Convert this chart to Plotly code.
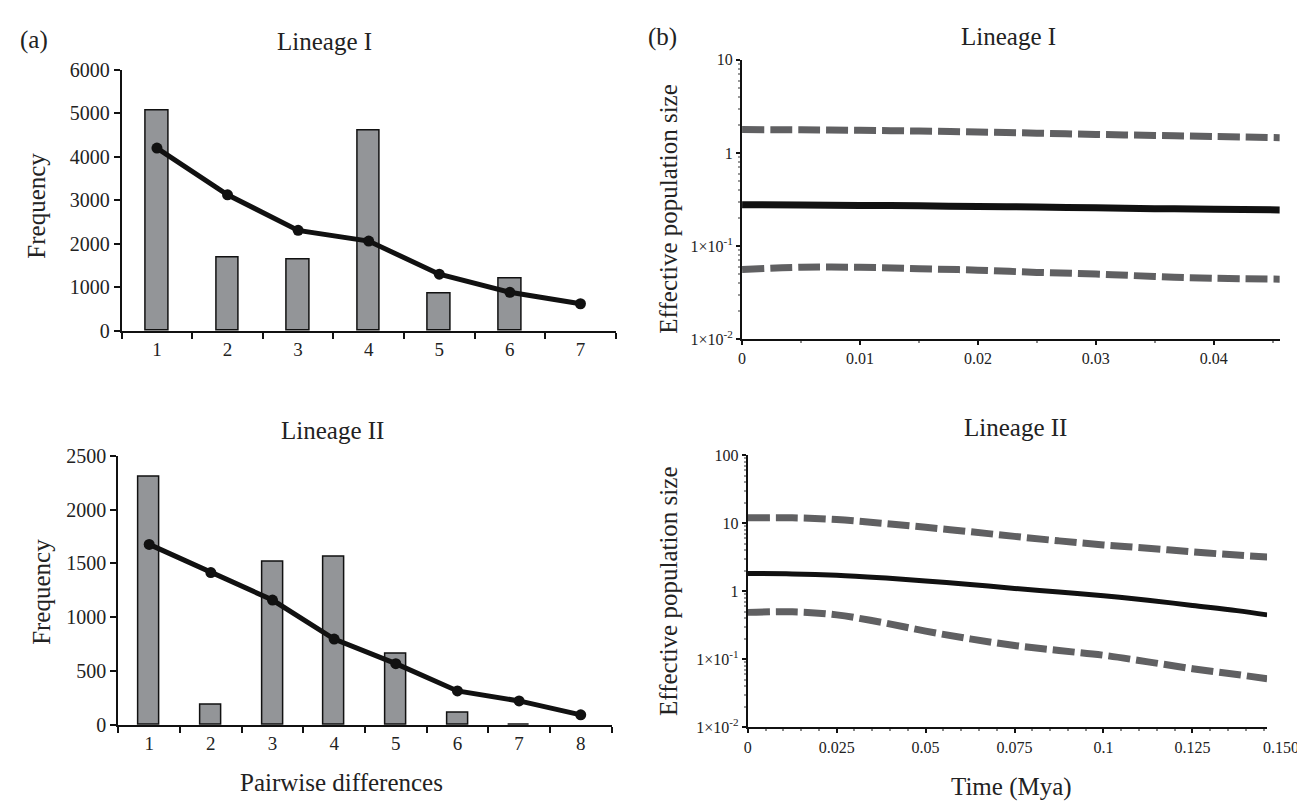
import plotly.graph_objects as go

W, H = 1305, 808
FONT = "Liberation Serif, Times New Roman, serif"

# ---------------- data ----------------
cats1 = ["1", "2", "3", "4", "5", "6", "7"]
obs1 = [5063, 1675, 1630, 4609, 857, 1206, None]
exp1 = [4198, 3126, 2309, 2063, 1304, 887, 625]

cats2 = ["1", "2", "3", "4", "5", "6", "7", "8"]
obs2 = [2301, 187, 1512, 1566, 663, 112, 6, None]
exp2 = [1677, 1415, 1160, 798, 569, 316, 223, 94]

t1 = [0, 0.005, 0.01, 0.015, 0.02, 0.025, 0.03, 0.035, 0.04, 0.0456]
med1 = [0.278, 0.276, 0.273, 0.270, 0.266, 0.262, 0.257, 0.252, 0.248, 0.244]
upp1 = [1.78, 1.77, 1.75, 1.72, 1.68, 1.63, 1.58, 1.54, 1.50, 1.46]
low1 = [0.056, 0.059, 0.059, 0.057, 0.055, 0.052, 0.050, 0.047, 0.045, 0.044]

t2 = [0, 0.0125, 0.025, 0.0375, 0.05, 0.0625, 0.075, 0.0875, 0.1, 0.1125, 0.125, 0.1375, 0.146]
med2 = [1.82, 1.80, 1.72, 1.58, 1.42, 1.26, 1.10, 0.98, 0.86, 0.74, 0.62, 0.52, 0.45]
upp2 = [12.0, 12.0, 11.3, 10.0, 8.7, 7.5, 6.4, 5.5, 4.8, 4.3, 3.8, 3.4, 3.2]
low2 = [0.49, 0.50, 0.45, 0.35, 0.26, 0.20, 0.16, 0.135, 0.115, 0.092, 0.073, 0.060, 0.052]

yt_freq1 = [0, 1000, 2000, 3000, 4000, 5000, 6000]
yt_freq2 = [0, 500, 1000, 1500, 2000, 2500]
xt_time1 = [0, 0.01, 0.02, 0.03, 0.04]
xt_time1_text = ["0", "0.01", "0.02", "0.03", "0.04"]
xt_time2 = [0, 0.025, 0.05, 0.075, 0.1, 0.125]
xt_time2_text = ["0", "0.025", "0.05", "0.075", "0.1", "0.125"]
extra_time2_label = (0.150, "0.150")
yt_log1 = [0.01, 0.1, 1, 10]
yt_log1_text = ["1×10<sup>-2</sup>", "1×10<sup>-1</sup>", "1", "10"]
yt_log2 = [0.01, 0.1, 1, 10, 100]
yt_log2_text = ["1×10<sup>-2</sup>", "1×10<sup>-1</sup>", "1", "10", "100"]

X4_RANGE = [0, 0.146]

BAR_FILL = "#939598"
DASH_COL = "#606062"


def px_x(p):
    return p / W


def px_y(p):
    return 1 - p / H


fig = go.Figure()

# ---- (a) top: Lineage I ----
fig.add_trace(go.Bar(x=cats1, y=obs1, width=0.32, marker=dict(color=BAR_FILL, line=dict(color="#111", width=1.5)),
                     xaxis="x", yaxis="y", showlegend=False))
fig.add_trace(go.Scatter(x=cats1, y=exp1, mode="lines+markers", line=dict(color="#111", width=5),
                         marker=dict(color="#111", size=11), xaxis="x", yaxis="y", showlegend=False))
# ---- (a) bottom: Lineage II ----
fig.add_trace(go.Bar(x=cats2, y=obs2, width=0.34, marker=dict(color=BAR_FILL, line=dict(color="#111", width=1.5)),
                     xaxis="x2", yaxis="y2", showlegend=False))
fig.add_trace(go.Scatter(x=cats2, y=exp2, mode="lines+markers", line=dict(color="#111", width=5),
                         marker=dict(color="#111", size=11), xaxis="x2", yaxis="y2", showlegend=False))

# ---- (b) top ----
for yy, col, wd, dash in [(upp1, DASH_COL, 7, "22px,6px"), (low1, DASH_COL, 7, "22px,6px"), (med1, "#111", 7, "solid")]:
    fig.add_trace(go.Scatter(x=t1, y=yy, mode="lines", line=dict(color=col, width=wd, dash=dash, shape="spline"),
                             xaxis="x3", yaxis="y3", showlegend=False))
# ---- (b) bottom ----
for yy, col, wd, dash in [(upp2, DASH_COL, 7, "22px,6px"), (low2, DASH_COL, 7, "22px,6px"), (med2, "#111", 5, "solid")]:
    fig.add_trace(go.Scatter(x=t2, y=yy, mode="lines", line=dict(color=col, width=wd, dash=dash, shape="spline"),
                             xaxis="x4", yaxis="y4", showlegend=False))

axis_common = dict(showline=True, linecolor="#111", linewidth=2, showgrid=False, zeroline=False,
                   ticks="outside", tickcolor="#111", tickwidth=2)

fig.update_layout(
    width=W, height=H, margin=dict(l=0, r=0, t=0, b=0),
    paper_bgcolor="white", plot_bgcolor="white",
    font=dict(family=FONT, color="#222"),
    bargap=0,
    xaxis=dict(**axis_common, domain=[px_x(110), px_x(605.6)], anchor="y", type="category",
               tickson="boundaries", ticklen=6, range=[-0.5, 6.5], tickfont=dict(size=19)),
    yaxis=dict(**axis_common, domain=[px_y(320.7), px_y(52)], anchor="x", range=[0, 6000],
               tickvals=yt_freq1, ticklen=6, tickfont=dict(size=20)),
    xaxis2=dict(**axis_common, domain=[px_x(106.7), px_x(601.4)], anchor="y2", type="category",
                tickson="boundaries", ticklen=6, range=[-0.5, 7.5], tickfont=dict(size=19)),
    yaxis2=dict(**axis_common, domain=[px_y(725.7), px_y(449)], anchor="x2", range=[0, 2500],
                tickvals=yt_freq2, ticklen=6, tickfont=dict(size=20)),
    xaxis3=dict(**axis_common, domain=[px_x(732.3), px_x(1271.7)], anchor="y3", range=[0, 0.0456],
                tickvals=xt_time1, ticktext=xt_time1_text, ticklen=4, tickfont=dict(size=16),
                minor=dict(ticks="outside", ticklen=2, tickcolor="#888", dtick=0.005)),
    yaxis3=dict(**axis_common, domain=[px_y(329), px_y(42)], anchor="x3", type="log", range=[-2, 1],
                tickvals=yt_log1, ticktext=yt_log1_text, ticklen=4, tickfont=dict(size=16),
                minor=dict(ticks="outside", ticklen=2, tickcolor="#999", dtick="D1")),
    xaxis4=dict(**axis_common, domain=[px_x(738), px_x(1259)], anchor="y4", range=X4_RANGE,
                tickvals=xt_time2, ticktext=xt_time2_text, ticklen=4, tickfont=dict(size=16),
                minor=dict(ticks="outside", ticklen=2, tickcolor="#888", dtick=0.005)),
    yaxis4=dict(**axis_common, domain=[px_y(728.3), px_y(448.3)], anchor="x4", type="log", range=[-2, 2],
                tickvals=yt_log2, ticktext=yt_log2_text, ticklen=4, tickfont=dict(size=16),
                minor=dict(ticks="outside", ticklen=2, tickcolor="#999", dtick="D1")),
)


def note(text, x, y, size, angle=0, xref="paper", yref="paper"):
    fig.add_annotation(text=text, x=x, y=y, xref=xref, yref=yref, showarrow=False,
                       font=dict(family=FONT, size=size, color="#222"), textangle=angle,
                       xanchor="center", yanchor="middle")


note("(a)", px_x(22), px_y(22), 25)
note("(b)", px_x(653), px_y(18), 25)
note("Lineage I", px_x(313), px_y(23), 25)
note("Lineage II", px_x(321), px_y(423), 25)
note("Lineage I", px_x(1000), px_y(18), 25)
note("Lineage II", px_x(1007), px_y(420), 25)
note("Frequency", px_x(25), px_y(192), 25, angle=-90)
note("Frequency", px_x(30), px_y(589), 25, angle=-90)
note("Effective population size", px_x(659), px_y(195), 25, angle=-90)
note("Effective population size", px_x(659), px_y(588), 25, angle=-90)
note("Pairwise differences", px_x(331), px_y(785), 25)
note("Time (Mya)", px_x(1003), px_y(790), 25)
# label at 0.150 sits just beyond the drawn axis end, as in the original
fig.add_annotation(text=extra_time2_label[1], x=extra_time2_label[0] / X4_RANGE[1], xref="x4 domain",
                   y=px_y(749), yref="paper", showarrow=False,
                   font=dict(family=FONT, size=16, color="#222"), xanchor="center", yanchor="middle")

fig.write_html("out.html")
